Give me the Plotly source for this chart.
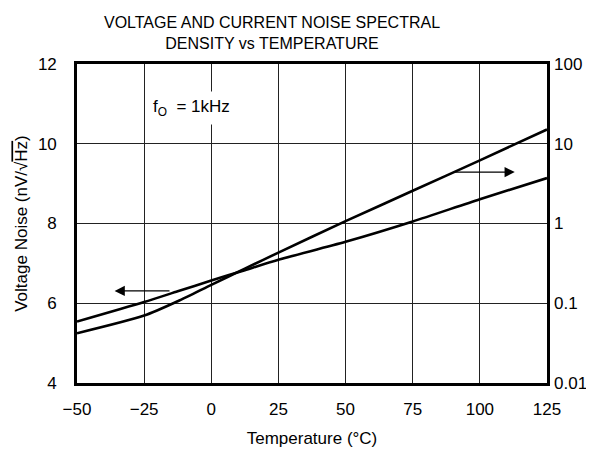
import plotly.graph_objects as go

# Data
temperature = [-50, -25, -12.5, 0, 12.5, 25, 50, 75, 100, 125]
voltage_noise = [5.54, 6.03, 6.30, 6.57, 6.83, 7.09, 7.54, 8.05, 8.61, 9.14]  # nV/rtHz (left axis)
current_noise = [0.042, 0.070, 0.106, 0.170, 0.272, 0.432, 1.07, 2.57, 6.2, 15.1]  # pA/rtHz (right axis, log)

x_ticks = [-50, -25, 0, 25, 50, 75, 100, 125]
x_ticktext = ["\u221250", "\u221225", "0", "25", "50", "75", "100", "125"]
y_ticks = [4, 6, 8, 10, 12]
y2_ticks = [0.01, 0.1, 1, 10, 100]
y2_ticktext = ["0.01", "0.1", "1", "10", "100"]

FONT = "Liberation Sans, Arial, sans-serif"
FS = 17

fig = go.Figure()
fig.add_trace(go.Scatter(x=temperature, y=voltage_noise, mode="lines",
                         line=dict(color="black", width=2.6, shape="spline", smoothing=0.7),
                         showlegend=False, yaxis="y"))
fig.add_trace(go.Scatter(x=temperature, y=current_noise, mode="lines",
                         line=dict(color="black", width=2.6, shape="spline", smoothing=0.7),
                         showlegend=False, yaxis="y2"))

annotations = [
    # left arrow (voltage noise -> left axis)
    dict(x=-36, y=6.31, ax=-15, ay=6.31, xref="x", yref="y", axref="x", ayref="y",
         showarrow=True, arrowhead=2, arrowsize=1.7, arrowwidth=1.2, arrowcolor="black", text=""),
    # right arrow (current noise -> right axis)
    dict(x=113, y=9.29, ax=90, ay=9.29, xref="x", yref="y", axref="x", ayref="y",
         showarrow=True, arrowhead=2, arrowsize=1.7, arrowwidth=1.2, arrowcolor="black", text=""),
    dict(x=-24, y=10.9, xref="x", yref="y", xanchor="left", yanchor="middle",
         text="f<sub>O</sub>  = 1kHz", showarrow=False, bgcolor="white",
         borderpad=5, font=dict(family=FONT, size=FS, color="black")),
]

fig.update_layout(
    width=586, height=443,
    margin=dict(l=69, r=47, t=56, b=68, autoexpand=False),
    paper_bgcolor="white", plot_bgcolor="white",
    font=dict(family=FONT, size=FS, color="black"),
    title=dict(text="VOLTAGE AND CURRENT NOISE SPECTRAL<br>DENSITY vs TEMPERATURE",
               xref="container", yref="container", x=0.4505, y=0.954,
               xanchor="center", yanchor="middle",
               font=dict(family=FONT, size=16, color="black")),
    xaxis=dict(range=[-50, 125], tickvals=x_ticks, ticktext=x_ticktext,
               showgrid=True, gridcolor="#222", gridwidth=1,
               showline=True, linecolor="black", linewidth=2.6, mirror=True,
               ticks="", ticklabelstandoff=9, zeroline=False,
               title=dict(text="Temperature (\u00b0C)", standoff=14,
                          font=dict(family=FONT, size=FS))),
    yaxis=dict(range=[4, 12], tickvals=y_ticks,
               showgrid=True, gridcolor="#222", gridwidth=1,
               showline=True, linecolor="black", linewidth=2.6, mirror=True,
               ticks="", ticklabelstandoff=14, zeroline=False,
               title=dict(text="Voltage Noise (nV/\u221a<span style=\"text-decoration:overline\">Hz</span>)",
                          standoff=6, font=dict(family=FONT, size=FS))),
    yaxis2=dict(type="log", range=[-2, 2], overlaying="y", side="right",
                tickvals=y2_ticks, ticktext=y2_ticktext,
                showgrid=False, showline=False, zeroline=False,
                ticks="", ticklabelstandoff=6),
    annotations=annotations,
)

fig.write_html("out.html")
